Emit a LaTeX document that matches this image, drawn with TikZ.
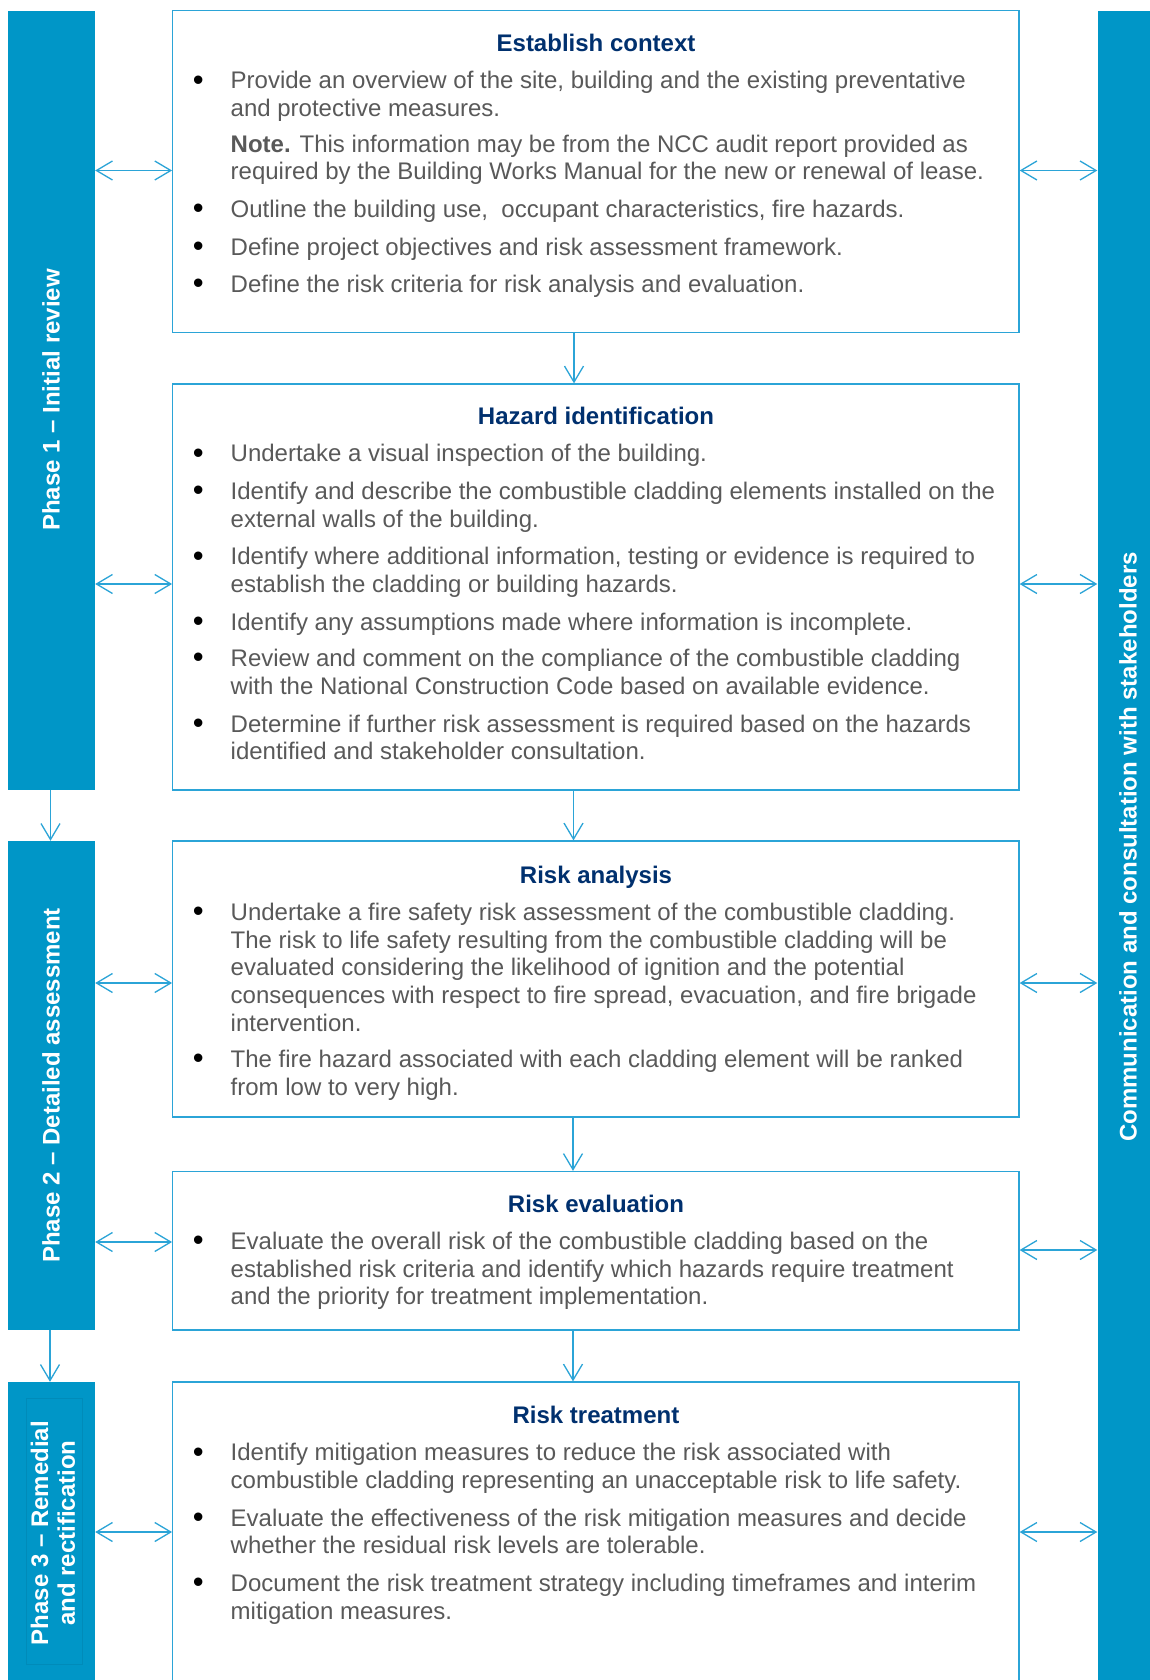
\documentclass[tikz,border=0pt]{standalone}
\usepackage{fontspec}
\setmainfont{Liberation Sans}
\usetikzlibrary{arrows.meta}
\definecolor{barblue}{RGB}{0,150,199}
\definecolor{lineblue}{RGB}{43,164,215}
\definecolor{navy}{RGB}{0,48,110}
\definecolor{bodygray}{RGB}{89,89,89}
% one bulleted paragraph: name, first baseline y, number of lines, text
% (a multi-line node sits on the baseline of its last line)
\newcommand{\bulletpara}[4]{%
  \node[bul] (#1-dot) at (198.3,{#2+1.2}) {\textbullet};
  \node[body] (#1) at (230.5,{#2+(#3-1)*27.6}) {#4};
}
\begin{document}
\begin{tikzpicture}[x=1pt,y=-1pt,
  phasebar/.style={fill=barblue, draw=none, inner sep=0, rectangle},
  stagebox/.style={draw=lineblue, line width=1.3pt, fill=white, inner sep=0, rectangle, minimum width=846.3pt},
  body/.style={anchor=base west, inner sep=0, align=left, text=bodygray, font=\fontsize{24}{27.6}\selectfont},
  ttl/.style={anchor=base, inner sep=0, text=navy, font=\fontsize{24}{27.6}\selectfont\bfseries},
  bul/.style={anchor=base, inner sep=0, text=black, font=\fontsize{31}{31}\selectfont},
  phasetext/.style={rotate=90, inner sep=0, text=white, align=center, font=\fontsize{24}{26.7}\selectfont\bfseries},
  flow/.style={draw=lineblue, line width=1.3pt, -{Straight Barb[length=16pt,width=19pt]}},
  both/.style={draw=lineblue, line width=1.3pt, {Straight Barb[length=16pt,width=19pt]}-{Straight Barb[length=16pt,width=19pt]}}
]
\useasboundingbox (0,0) rectangle (1149,1680);
\fill[white] (0,0) rectangle (1149,1680);

% phase bars on the left, stakeholder bar on the right
\node[phasebar, minimum width=87.5pt, minimum height=779.3pt] (p1) at (51.25,400.35) {};
\node[phasebar, minimum width=87.5pt, minimum height=489pt] (p2) at (51.25,1085.5) {};
\node[phasebar, minimum width=87.5pt, minimum height=318pt] (p3) at (51.25,1541) {};
\node[phasebar, minimum width=62.5pt, minimum height=1689.3pt] (rb) at (1128.75,855.35) {};
\draw[draw=barblue!93!black, line width=0.4pt] (25.7,1398) rectangle (82.3,1664);

\node[phasetext] (p1t) at (51,400) {Phase 1 – Initial review};
\node[phasetext] (p2t) at (51,1085.5) {Phase 2 – Detailed assessment};
\node[phasetext] (p3t) at (53,1533) {Phase 3 – Remedial\\and rectification};
\node[phasetext] (rbt) at (1128,847) {Communication and consultation with stakeholders};

% stage boxes
\node[stagebox, minimum height=321.6pt] (b1) at (595.85,171.5) {};
\node[stagebox, minimum height=406pt] (b2) at (595.85,587) {};
\node[stagebox, minimum height=276pt] (b3) at (595.85,979) {};
\node[stagebox, minimum height=158.5pt] (b4) at (595.85,1250.75) {};
\node[stagebox, minimum height=318pt] (b5) at (595.85,1541) {};

% Establish context
\node[ttl] (t1) at (596,51.4) {Establish context};
\bulletpara{e1}{88.9}{2}{Provide an overview of the site, building and the existing preventative\\and protective measures.}
\node[body] (e1n) at (230.5,{152.1+27.6}) {\textbf{Note.} This information may be from the NCC audit report provided as\\required by the Building Works Manual for the new or renewal of lease.};
\bulletpara{e2}{217.5}{1}{Outline the building use,\ \ occupant characteristics, fire hazards.}
\bulletpara{e3}{255}{1}{Define project objectives and risk assessment framework.}
\bulletpara{e4}{292.5}{1}{Define the risk criteria for risk analysis and evaluation.}

% Hazard identification
\node[ttl] (t2) at (596,424.4) {Hazard identification};
\bulletpara{h1}{461.9}{1}{Undertake a visual inspection of the building.}
\bulletpara{h2}{499.4}{2}{Identify and describe the combustible cladding elements installed on the\\external walls of the building.}
\bulletpara{h3}{564.8}{2}{Identify where additional information, testing or evidence is required to\\establish the cladding or building hazards.}
\bulletpara{h4}{630.1}{1}{Identify any assumptions made where information is incomplete.}
\bulletpara{h5}{666.6}{2}{Review and comment on the compliance of the combustible cladding\\with the National Construction Code based on available evidence.}
\bulletpara{h6}{732}{2}{Determine if further risk assessment is required based on the hazards\\identified and stakeholder consultation.}

% Risk analysis
\node[ttl] (t3) at (596,883.1) {Risk analysis};
\bulletpara{a1}{920.6}{5}{Undertake a fire safety risk assessment of the combustible cladding.\\The risk to life safety resulting from the combustible cladding will be\\evaluated considering the likelihood of ignition and the potential\\consequences with respect to fire spread, evacuation, and fire brigade\\intervention.}
\bulletpara{a2}{1067.4}{2}{The fire hazard associated with each cladding element will be ranked\\from low to very high.}

% Risk evaluation
\node[ttl] (t4) at (596,1212.1) {Risk evaluation};
\bulletpara{v1}{1249.6}{3}{Evaluate the overall risk of the combustible cladding based on the\\established risk criteria and identify which hazards require treatment\\and the priority for treatment implementation.}

% Risk treatment
\node[ttl] (t5) at (596,1423.3) {Risk treatment};
\bulletpara{r1}{1460.8}{2}{Identify mitigation measures to reduce the risk associated with\\combustible cladding representing an unacceptable risk to life safety.}
\bulletpara{r2}{1526.2}{2}{Evaluate the effectiveness of the risk mitigation measures and decide\\whether the residual risk levels are tolerable.}
\bulletpara{r3}{1591.6}{2}{Document the risk treatment strategy including timeframes and interim\\mitigation measures.}

% flow between stages
\draw[flow] (574,0 |- b1.south) -- (574,0 |- b2.north);
\draw[flow] (573.5,0 |- b2.south) -- (573.5,0 |- b3.north);
\draw[flow] (573,0 |- b3.south) -- (573,0 |- b4.north);
\draw[flow] (573,0 |- b4.south) -- (573,0 |- b5.north);
\draw[flow] (50.5,0 |- p1.south) -- (50.5,0 |- p2.north);
\draw[flow] (50,0 |- p2.south) -- (50,0 |- p3.north);

% links between phases, stages and stakeholders
\draw[both] (p1.east |- 0,170.5) -- (b1.west |- 0,170.5);
\draw[both] (p1.east |- 0,584) -- (b2.west |- 0,584);
\draw[both] (p2.east |- 0,983) -- (b3.west |- 0,983);
\draw[both] (p2.east |- 0,1242) -- (b4.west |- 0,1242);
\draw[both] (p3.east |- 0,1532) -- (b5.west |- 0,1532);
\draw[both] (b1.east |- 0,170.5) -- (rb.west |- 0,170.5);
\draw[both] (b2.east |- 0,584) -- (rb.west |- 0,584);
\draw[both] (b3.east |- 0,983) -- (rb.west |- 0,983);
\draw[both] (b4.east |- 0,1250) -- (rb.west |- 0,1250);
\draw[both] (b5.east |- 0,1532) -- (rb.west |- 0,1532);
\end{tikzpicture}
\end{document}
